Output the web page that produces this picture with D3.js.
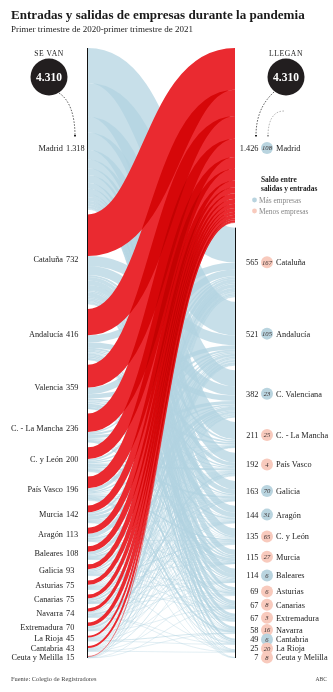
<!DOCTYPE html>
<html><head><meta charset="utf-8">
<script src="https://cdn.jsdelivr.net/npm/d3@7"></script>
<style>
html,body{margin:0;padding:0;background:#fff;}
svg{display:block;}
text{font-family:"Liberation Serif","Times New Roman",serif;}
</style></head><body>
<svg id="c" width="333" height="692"></svg>
<script>
// ---------- DATA ----------
const titleText = "Entradas y salidas de empresas durante la pandemia";
const subtitleText = "Primer trimestre de 2020-primer trimestre de 2021";
const sourceText = "Fuente: Colegio de Registradores";
const creditText = "ABC";

const leftKeys   = ["MAD","CAT","AND","VAL","CLM","CYL","PVA","MUR","ARA","BAL","GAL","AST","CAN","NAV","EXT","RIO","CNT","CEU"];
const leftLabels = ["Madrid","Cataluña","Andalucía","Valencia","C. - La Mancha","C. y León","País Vasco","Murcia","Aragón","Baleares","Galicia","Asturias","Canarias","Navarra","Extremadura","La Rioja","Cantabria","Ceuta y Melilla"];
const leftValues = [1318,732,416,359,236,200,196,142,113,108,93,75,75,74,70,45,43,15];

const rightKeys   = ["MAD","CAT","AND","VAL","CLM","PVA","GAL","ARA","CYL","MUR","BAL","AST","CAN","EXT","NAV","CNT","RIO","CEU"];
const rightLabels = ["Madrid","Cataluña","Andalucía","C. Valenciana","C. - La Mancha","País Vasco","Galicia","Aragón","C. y León","Murcia","Baleares","Asturias","Canarias","Extremadura","Navarra","Cantabria","La Rioja","Ceuta y Melilla"];
const rightValues = [1426,565,521,382,211,192,163,144,135,115,114,69,67,67,58,49,25,7];
const saldo       = [108,-167,105,23,-25,-4,70,31,-65,-27,6,-6,-8,-3,-16,6,-20,-8];

// Madrid -> each other region (right order, without Madrid)
const fromMadrid = [285,275,130,140,80,70,55,65,45,45,25,30,25,20,18,7,3];
// each other region -> Madrid (left order, without Madrid)
const toMadrid   = [340,215,185,150,95,95,55,50,45,40,35,30,25,30,15,16,5];
// flows between the other regions (estimated)
const otherFlows = [
 ["CAT","AND",80],["CAT","VAL",75],["CAT","CLM",15],["CAT","PVA",29],["CAT","GAL",37],["CAT","ARA",39],["CAT","CYL",10],["CAT","MUR",12],["CAT","BAL",33],["CAT","AST",13],["CAT","CAN",11],["CAT","EXT",12],["CAT","NAV",8],["CAT","CNT",10],["CAT","RIO",6],["CAT","CEU",2],
 ["AND","CAT",57],["AND","VAL",45],["AND","CLM",15],["AND","PVA",10],["AND","GAL",10],["AND","ARA",5],["AND","CYL",5],["AND","MUR",14],["AND","BAL",10],["AND","AST",3],["AND","CAN",10],["AND","EXT",12],["AND","NAV",1],["AND","CNT",2],["AND","CEU",2],
 ["VAL","CAT",55],["VAL","AND",35],["VAL","CLM",15],["VAL","PVA",8],["VAL","GAL",5],["VAL","ARA",12],["VAL","CYL",4],["VAL","MUR",25],["VAL","BAL",8],["VAL","AST",2],["VAL","CAN",2],["VAL","EXT",1],["VAL","NAV",1],["VAL","RIO",1],
 ["CLM","CAT",10],["CLM","AND",15],["CLM","VAL",26],["CLM","PVA",3],["CLM","GAL",3],["CLM","ARA",3],["CLM","CYL",5],["CLM","MUR",8],["CLM","BAL",2],["CLM","AST",1],["CLM","CAN",1],["CLM","EXT",9],
 ["CYL","CAT",15],["CYL","AND",10],["CYL","VAL",12],["CYL","CLM",5],["CYL","PVA",15],["CYL","GAL",15],["CYL","ARA",5],["CYL","MUR",2],["CYL","BAL",3],["CYL","AST",10],["CYL","CAN",1],["CYL","EXT",2],["CYL","NAV",3],["CYL","CNT",5],["CYL","RIO",2],
 ["PVA","CAT",25],["PVA","AND",10],["PVA","VAL",8],["PVA","CLM",2],["PVA","GAL",5],["PVA","ARA",5],["PVA","CYL",10],["PVA","MUR",2],["PVA","BAL",3],["PVA","AST",5],["PVA","CAN",2],["PVA","EXT",1],["PVA","NAV",13],["PVA","CNT",7],["PVA","RIO",3],
 ["MUR","CAT",13],["MUR","AND",20],["MUR","VAL",30],["MUR","CLM",7],["MUR","PVA",2],["MUR","GAL",1],["MUR","ARA",2],["MUR","CYL",2],["MUR","BAL",2],["MUR","CAN",2],["MUR","EXT",5],["MUR","NAV",1],
 ["ARA","CAT",30],["ARA","AND",5],["ARA","VAL",10],["ARA","CLM",2],["ARA","PVA",4],["ARA","GAL",1],["ARA","CYL",3],["ARA","MUR",1],["ARA","BAL",2],["ARA","NAV",4],["ARA","RIO",1],
 ["BAL","CAT",25],["BAL","AND",10],["BAL","VAL",15],["BAL","CLM",1],["BAL","PVA",2],["BAL","GAL",2],["BAL","ARA",2],["BAL","CYL",1],["BAL","MUR",1],["BAL","AST",1],["BAL","CAN",3],
 ["GAL","CAT",12],["GAL","AND",10],["GAL","VAL",6],["GAL","CLM",2],["GAL","PVA",5],["GAL","ARA",2],["GAL","CYL",8],["GAL","MUR",1],["GAL","BAL",1],["GAL","AST",4],["GAL","CAN",2],
 ["AST","CAT",6],["AST","AND",5],["AST","VAL",3],["AST","CLM",1],["AST","PVA",4],["AST","GAL",8],["AST","ARA",1],["AST","CYL",6],["AST","BAL",1],["AST","CAN",1],["AST","CNT",4],
 ["CAN","CAT",10],["CAN","AND",15],["CAN","VAL",8],["CAN","CLM",1],["CAN","PVA",2],["CAN","GAL",3],["CAN","ARA",1],["CAN","CYL",1],["CAN","MUR",1],["CAN","BAL",2],["CAN","AST",1],
 ["NAV","CAT",10],["NAV","AND",3],["NAV","VAL",4],["NAV","PVA",15],["NAV","ARA",8],["NAV","CYL",2],["NAV","MUR",1],["NAV","BAL",1],["NAV","CNT",1],["NAV","RIO",4],
 ["EXT","CAT",4],["EXT","AND",18],["EXT","VAL",5],["EXT","CLM",5],["EXT","PVA",1],["EXT","GAL",1],["EXT","CYL",4],["EXT","MUR",1],["EXT","CAN",1],
 ["RIO","CAT",3],["RIO","AND",2],["RIO","VAL",2],["RIO","PVA",6],["RIO","ARA",4],["RIO","CYL",3],["RIO","NAV",6],["RIO","CNT",2],["RIO","GAL",1],["RIO","BAL",1],
 ["CNT","CAT",4],["CNT","AND",2],["CNT","VAL",2],["CNT","PVA",6],["CNT","GAL",1],["CNT","CYL",6],["CNT","AST",4],["CNT","NAV",1],["CNT","RIO",1],
 ["CEU","CAT",1],["CEU","AND",6],["CEU","VAL",1],["CEU","CAN",1],["CEU","MUR",1]
];

// ---------- LAYOUT ----------
const svg = d3.select("#c");
const es = d3.formatLocale({decimal:",", thousands:".", grouping:[3], currency:["","€"]});
const fmt = es.format(",d");

const yTop = 48, yBottom = 658, pad = 4.8;
const xL = 88, xR = 235;
const total = d3.sum(leftValues);
const h = d3.scaleLinear().domain([0, total]).range([0, (yBottom - yTop) - (leftKeys.length - 1) * pad]);

function stack(keys, values){
  const m = new Map(); let y = yTop;
  keys.forEach((k,i)=>{ const hh = h(values[i]); m.set(k,{key:k,i,y0:y,y1:y+hh}); y += hh + pad; });
  return m;
}
const L = stack(leftKeys, leftValues), R = stack(rightKeys, rightValues);

const links = [];
rightKeys.slice(1).forEach((k,i)=>links.push({s:"MAD",t:k,v:fromMadrid[i]}));
leftKeys.slice(1).forEach((k,i)=>links.push({s:k,t:"MAD",v:toMadrid[i]}));
otherFlows.forEach(([s,t,v])=>links.push({s,t,v}));
links.forEach(l=>l.w = h(l.v));

leftKeys.forEach(k=>{
  let y = L.get(k).y0;
  links.filter(l=>l.s===k).sort((a,b)=>R.get(a.t).y0-R.get(b.t).y0)
       .forEach(l=>{ l.sy = y + l.w/2; y += l.w; });
});
rightKeys.forEach(k=>{
  let y = R.get(k).y0;
  links.filter(l=>l.t===k).sort((a,b)=>L.get(a.s).y0-L.get(b.s).y0)
       .forEach(l=>{ l.ty = y + l.w/2; y += l.w; });
});

const linkGen = d3.linkHorizontal().source(d=>[xL,d.sy]).target(d=>[xR,d.ty]);

// blue flows
svg.append("g").attr("fill","none")
  .selectAll("path").data(links.filter(l=>l.t!=="MAD").sort((a,b)=>b.w-a.w)).join("path")
  .attr("d",linkGen).attr("stroke","#b2d3e1").attr("stroke-opacity",0.72)
  .attr("stroke-width",d=>Math.max(0.5,d.w));

// red flows (to Madrid)
svg.append("g").attr("fill","none").style("isolation","isolate")
  .selectAll("path").data(links.filter(l=>l.t==="MAD")).join("path")
  .attr("d",linkGen).attr("stroke","#ea2a30").style("mix-blend-mode","multiply")
  .attr("stroke-width",d=>Math.max(0.5,d.w));

// node lines
svg.append("line").attr("x1",xL-0.5).attr("x2",xL-0.5).attr("y1",L.get("MAD").y0).attr("y2",L.get("CEU").y1)
  .attr("stroke","#111").attr("stroke-width",1);
svg.append("line").attr("x1",xR+0.5).attr("x2",xR+0.5).attr("y1",R.get("CAT").y0).attr("y2",R.get("CEU").y1)
  .attr("stroke","#111").attr("stroke-width",1);

// label positions with collision avoidance (from bottom up)
function labelYs(map, keys){
  const ys = keys.map(k=>{const n=map.get(k); return (n.y0+n.y1)/2;});
  ys[0] = 148;
  for (let i = ys.length-2; i >= 1; i--) ys[i] = Math.min(ys[i], ys[i+1]-9);
  return ys;
}
const lY = labelYs(L, leftKeys), rY = labelYs(R, rightKeys);

const fs = 8.3;
const gl = svg.append("g");
leftKeys.forEach((k,i)=>{
  gl.append("text").attr("x",63).attr("y",lY[i]).attr("dy","0.35em").attr("text-anchor","end")
    .attr("font-size",fs).attr("fill","#222").text(leftLabels[i]);
  gl.append("text").attr("x",66).attr("y",lY[i]).attr("dy","0.35em").attr("text-anchor","start")
    .attr("font-size",fs).attr("fill","#222").text(fmt(leftValues[i]));
});
const gr = svg.append("g");
rightKeys.forEach((k,i)=>{
  gr.append("text").attr("x",258.5).attr("y",rY[i]).attr("dy","0.35em").attr("text-anchor","end")
    .attr("font-size",fs).attr("fill","#222").text(fmt(rightValues[i]));
  gr.append("circle").attr("cx",267).attr("cy",rY[i]).attr("r",6)
    .attr("fill", saldo[i] >= 0 ? "#b9d4df" : "#f8cabd");
  gr.append("text").attr("x",267).attr("y",rY[i]).attr("dy","0.35em").attr("text-anchor","middle")
    .attr("font-size",6.6).attr("font-style","italic").attr("fill","#3a3030").text(Math.abs(saldo[i]));
  gr.append("text").attr("x",276).attr("y",rY[i]).attr("dy","0.35em").attr("text-anchor","start")
    .attr("font-size",fs).attr("fill","#222").text(rightLabels[i]);
});

// totals
function totalBadge(cx, label){
  svg.append("text").attr("x",cx).attr("y",56).attr("text-anchor","middle").attr("font-size",7.6)
    .attr("letter-spacing",0.6).attr("fill","#222").text(label);
  svg.append("circle").attr("cx",cx).attr("cy",77).attr("r",18.5).attr("fill","#221e1f");
  svg.append("text").attr("x",cx).attr("y",77).attr("dy","0.35em").attr("text-anchor","middle")
    .attr("font-size",11.5).attr("font-weight","bold").attr("fill","#fff").text(fmt(total));
}
totalBadge(49, "SE VAN");
totalBadge(286, "LLEGAN");

// arrows
const defs = svg.append("defs");
function marker(id, color){
  defs.append("marker").attr("id",id).attr("viewBox","0 0 6 6").attr("refX",3).attr("refY",3)
    .attr("markerWidth",4).attr("markerHeight",4).attr("orient","auto")
    .append("path").attr("d","M0,0L6,3L0,6Z").attr("fill",color);
}
marker("ak","#222"); marker("ag","#999");
const arrow = (d, col, m) => svg.append("path").attr("d",d).attr("fill","none").attr("stroke",col)
  .attr("stroke-width",0.7).attr("stroke-dasharray","1.6,1.4").attr("marker-end",`url(#${m})`);
arrow("M59,93 C70,100 75,116 75,136", "#222", "ak");
arrow("M274,92 C262,103 256,117 256,136", "#222", "ak");
arrow("M284,111 C273,111 268,121 268,136", "#999", "ag");

// legend
const lg = svg.append("g").attr("font-size",7.4);
lg.append("text").attr("x",261).attr("y",182).attr("font-weight","bold").attr("fill","#222").text("Saldo entre");
lg.append("text").attr("x",261).attr("y",191).attr("font-weight","bold").attr("fill","#222").text("salidas y entradas");
lg.append("circle").attr("cx",254.5).attr("cy",200).attr("r",2.4).attr("fill","#b9d4df");
lg.append("text").attr("x",259).attr("y",200).attr("dy","0.35em").attr("fill","#888").text("Más empresas");
lg.append("circle").attr("cx",254.5).attr("cy",211).attr("r",2.4).attr("fill","#f8cabd");
lg.append("text").attr("x",259).attr("y",211).attr("dy","0.35em").attr("fill","#888").text("Menos empresas");

// title
const t = svg.append("text").attr("x",11).attr("y",19).attr("font-size",12.5).attr("font-weight","bold")
  .attr("fill","#1a1a1a").text(titleText);
const tw = t.node().getComputedTextLength(); t.attr("font-size", 12.5*294/tw);
const st = svg.append("text").attr("x",11).attr("y",32).attr("font-size",8.6).attr("fill","#222").text(subtitleText);
const sw = st.node().getComputedTextLength(); st.attr("font-size", 8.6*182/sw);

svg.append("text").attr("x",11).attr("y",681).attr("font-size",6.4).attr("fill","#444").text(sourceText);
svg.append("text").attr("x",327).attr("y",681).attr("text-anchor","end").attr("font-size",5.6).attr("fill","#444").text(creditText);
</script>
</body></html>
